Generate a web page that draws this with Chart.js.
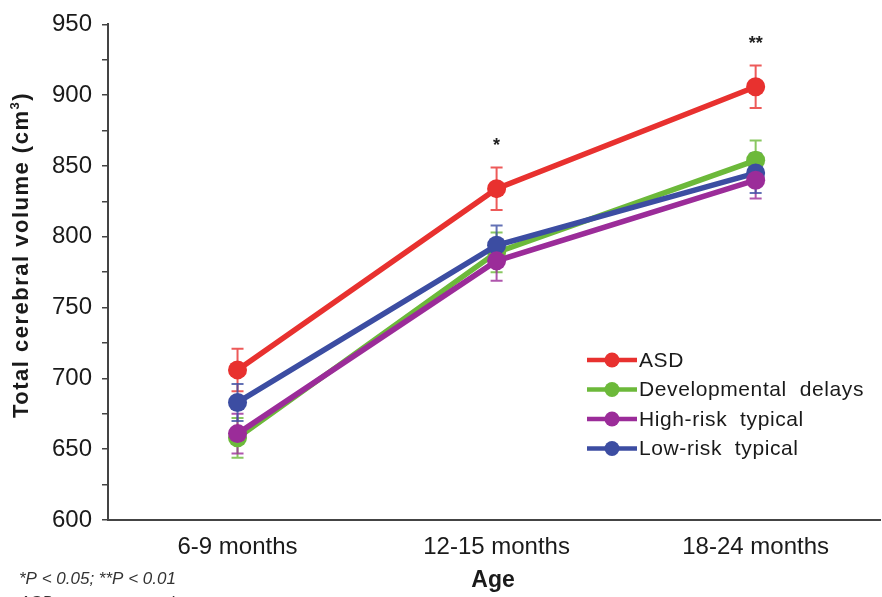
<!DOCTYPE html>
<html>
<head>
<meta charset="utf-8">
<script src="https://cdn.jsdelivr.net/npm/chart.js@4"></script>
<style>
  html, body { margin: 0; padding: 0; background: #fff; overflow: hidden; }
  #wrap { width: 882px; height: 597px; }
</style>
</head>
<body>
<div id="wrap"><canvas id="grafico" width="882" height="597"></canvas></div>
<script>
// datos
const ageLabels = ['6-9 months', '12-15 months', '18-24 months'];
const seriesNames = ['ASD', 'Developmental  delays', 'High-risk  typical', 'Low-risk  typical'];
const asdMeans = [706, 834, 906];
const asdErr = [15, 15, 15];
const ddMeans = [658, 789, 854];
const ddErr = [14, 14, 14];
const hrMeans = [661, 783, 840];
const hrErr = [14, 14, 13];
const lrMeans = [683, 794, 845];
const lrErr = [13, 14, 14];
const yTicks = [600, 650, 700, 750, 800, 850, 900, 950];
// asteriscos sobre ASD
const signif = ['', '*', '**'];

const colores = ['#e8312f', '#6cb93a', '#9b2c99', '#3c4da2'];
const fuente = '"Liberation Sans", Arial, sans-serif';

function puntos(arr) {
    return arr.map((v, i) => ({ x: i, y: v }));
}

const medias = [asdMeans, ddMeans, hrMeans, lrMeans];
const errores = [asdErr, ddErr, hrErr, lrErr];
const ordenDibujo = [0, 3, 1, 2];

const datasets = medias.map((m, k) => ({
    label: seriesNames[k],
    data: puntos(m),
    errores: errores[k],
    borderColor: colores[k],
    backgroundColor: colores[k],
    borderWidth: 5.5,
    pointRadius: 9.5,
    pointHoverRadius: 9.5,
    pointBorderWidth: 0,
    tension: 0,
    order: ordenDibujo[k]
}));

// Plugin para barras de error, leyenda y textos
const extras = {
    id: 'extras',
    beforeDatasetsDraw(chart) {
        const ctx = chart.ctx;
        const xs = chart.scales.x, ys = chart.scales.y;
        ctx.save();
        chart.data.datasets.forEach(ds => {
            ctx.strokeStyle = ds.borderColor;
            ctx.globalAlpha = 0.8;
            ctx.lineWidth = 2;
            ds.data.forEach((p, i) => {
                const x = xs.getPixelForValue(p.x);
                const yt = ys.getPixelForValue(p.y + ds.errores[i]);
                const yb = ys.getPixelForValue(p.y - ds.errores[i]);
                ctx.beginPath();
                ctx.moveTo(x, yt); ctx.lineTo(x, yb);
                ctx.moveTo(x - 6, yt); ctx.lineTo(x + 6, yt);
                ctx.moveTo(x - 6, yb); ctx.lineTo(x + 6, yb);
                ctx.stroke();
            });
        });
        ctx.restore();
    },
    afterDraw(chart) {
        const ctx = chart.ctx;
        const xs = chart.scales.x, ys = chart.scales.y;
        ctx.save();

        // asteriscos
        ctx.fillStyle = '#222';
        ctx.font = 'bold 18px ' + fuente;
        ctx.textAlign = 'center';
        ctx.textBaseline = 'middle';
        signif.forEach((s, i) => {
            if (!s) return;
            const x = xs.getPixelForValue(i);
            const y = ys.getPixelForValue(asdMeans[i] + asdErr[i]) - 21;
            ctx.fillText(s, x, y);
        });

        // leyenda
        const lx = 587, ly = 360, paso = 29.5;
        chart.data.datasets.forEach((ds, k) => {
            const y = ly + k * paso;
            ctx.strokeStyle = ds.borderColor;
            ctx.lineWidth = 4.5;
            ctx.beginPath();
            ctx.moveTo(lx, y); ctx.lineTo(lx + 50, y);
            ctx.stroke();
            ctx.fillStyle = ds.borderColor;
            ctx.beginPath();
            ctx.arc(lx + 25, y, 7.5, 0, Math.PI * 2);
            ctx.fill();
            ctx.fillStyle = '#1a1a1a';
            ctx.font = '21px ' + fuente;
            ctx.letterSpacing = '0.6px';
            ctx.textAlign = 'left';
            ctx.textBaseline = 'middle';
            ctx.fillText(ds.label, lx + 52, y + 1);
            ctx.letterSpacing = '0px';
        });

        // titulo eje x
        ctx.fillStyle = '#1a1a1a';
        ctx.font = 'bold 23px ' + fuente;
        ctx.textAlign = 'center';
        ctx.textBaseline = 'middle';
        ctx.fillText('Age', 493, 581);

        // titulo eje y con superindice
        ctx.save();
        ctx.translate(22, 255);
        ctx.rotate(-Math.PI / 2);
        ctx.letterSpacing = '1.5px';
        ctx.font = 'bold 22px ' + fuente;
        const t1 = 'Total cerebral volume (cm';
        const t2 = ')';
        const w1 = ctx.measureText(t1).width;
        const w2 = ctx.measureText(t2).width;
        ctx.font = 'bold 13px ' + fuente;
        const w3 = ctx.measureText('3').width;
        const x0 = -(w1 + w2 + w3) / 2;
        ctx.textAlign = 'left';
        ctx.textBaseline = 'middle';
        ctx.font = 'bold 22px ' + fuente;
        ctx.fillText(t1, x0, 0);
        ctx.font = 'bold 13px ' + fuente;
        ctx.fillText('3', x0 + w1, -7);
        ctx.font = 'bold 22px ' + fuente;
        ctx.fillText(t2, x0 + w1 + w3, 0);
        ctx.restore();

        // nota al pie
        ctx.fillStyle = '#333';
        ctx.textAlign = 'left';
        ctx.textBaseline = 'alphabetic';
        ctx.font = 'italic 17px ' + fuente;
        ctx.fillText('*P < 0.05; **P < 0.01', 19, 584);
        ctx.fillText('ASD versus comparison groups', 19, 608);

        ctx.restore();
    }
};

const chart = new Chart(document.getElementById('grafico'), {
    type: 'line',
    data: { datasets },
    options: {
        responsive: false,
        animation: false,
        events: [],
        layout: { autoPadding: false, padding: { top: 20, right: 2, bottom: 0, left: 0 } },
        plugins: {
            legend: { display: false },
            tooltip: { enabled: false }
        },
        scales: {
            x: {
                type: 'linear',
                min: -0.5,
                max: 2.48,
                afterBuildTicks: scale => {
                    scale.ticks = ageLabels.map((l, i) => ({ value: i }));
                },
                afterFit: scale => {
                    scale.height = 77;
                    scale.paddingLeft = 0;
                    scale.paddingRight = 0;
                },
                grid: { drawOnChartArea: false, drawTicks: false },
                border: { display: true, color: '#444', width: 2 },
                ticks: {
                    autoSkip: false,
                    maxRotation: 0,
                    padding: 13,
                    color: '#1a1a1a',
                    font: { family: fuente, size: 24 },
                    callback: v => ageLabels[v]
                }
            },
            y: {
                min: 600,
                max: 950,
                afterFit: scale => { scale.width = 108; },
                grid: { drawOnChartArea: false, drawTicks: true, tickLength: 6, color: '#444', lineWidth: 1.5 },
                border: { display: true, color: '#444', width: 2 },
                ticks: {
                    stepSize: 25,
                    autoSkip: false,
                    padding: 10,
                    color: '#1a1a1a',
                    font: { family: fuente, size: 24 },
                    callback: v => (yTicks.includes(v) ? v : '')
                }
            }
        }
    },
    plugins: [extras]
});
</script>
</body>
</html>
